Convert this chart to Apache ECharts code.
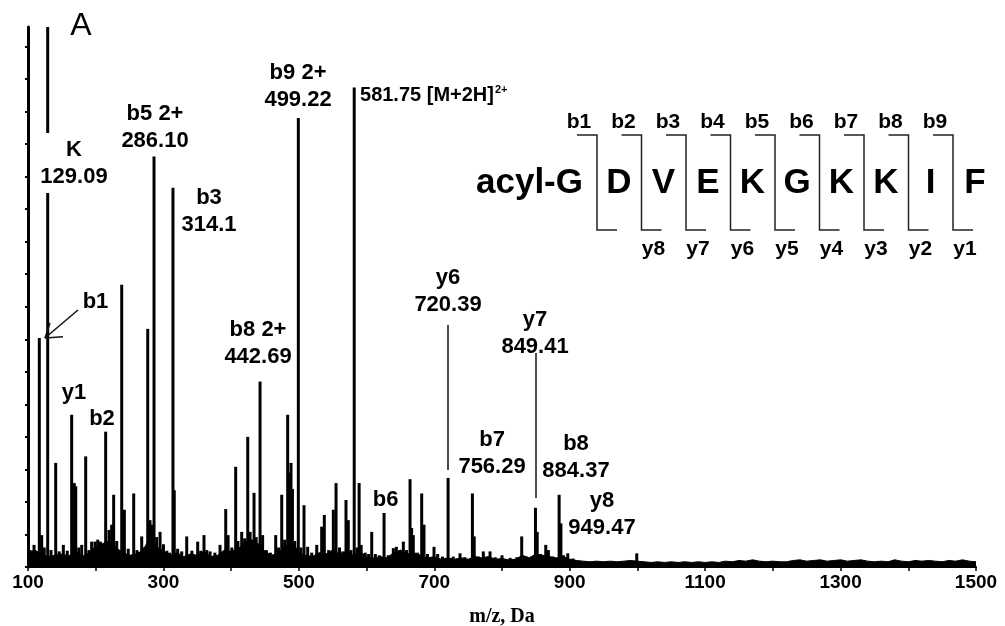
<!DOCTYPE html>
<html><head><meta charset="utf-8">
<script src="https://cdn.jsdelivr.net/npm/echarts@6/dist/echarts.min.js"></script>
<style>html,body{margin:0;padding:0;background:#fff}#c{width:1005px;height:626px}</style>
</head><body><div id="c"></div>
<script>
// ---- data (m/z, relative intensity; y tick every 5 units) ----
const peaks = [
 [103,2.6],[108.9,3.4],[112,2.4],[116.7,35.2],[120.2,4.9],[124,3.0],[129.09,83],[134,2.6],[140.9,16.0],[146,2.4],
 [152.2,3.4],[158,2.5],[164.5,23.4],[168.4,12.9],[170.5,12.4],[175,3.0],[179.3,3.4],[185.2,17.0],[190,2.6],[194,3.9],
 [199,3.9],[203,4.2],[207,3.9],[210,3.5],[214.7,20.8],[219.6,5.7],[223.5,6.5],[226.5,11.1],[231,4.0],[238.4,43.4],
 [242.3,8.8],[248,2.8],[256.1,11.3],[261,2.6],[267.9,4.7],[272,3.0],[276.8,36.6],[280.2,7.2],[283,6.5],[286.1,63.1],
 [290,4.6],[295,5.4],[300,3.5],[305,2.5],[309,2.2],[314.1,58.3],[316,11.8],[321,2.8],[327,2.4],[334.4,4.7],
 [342,2.5],[350.6,3.9],[355,2.5],[359.9,4.9],[364,2.6],[368.8,2.4],[376,2.2],[383.6,3.4],[392,8.9],[395.5,4.9],
 [401,3.0],[406.7,15.4],[410,4.0],[415.6,5.4],[420,4.4],[424.5,20.0],[428,5.4],[433.8,11.4],[437,4.6],[442.69,28.5],
 [446.5,4.9],[452,2.6],[458,2.2],[465.8,4.9],[470,3.0],[474.7,11.1],[479,4.2],[483.5,23.4],[486,14.5],[488.4,16.0],
 [490.5,12.0],[494,4.0],[499.22,69.0],[503,3.0],[507.6,9.5],[513,3.1],[519,2.2],[526.4,3.4],[533.7,6.2],[537.6,8.0],
 [544,2.6],[550.9,8.8],[554.9,12.9],[560,3.0],[565,2.4],[569.6,10.3],[573,7.2],[577,2.6],[581.75,73.7],[586,3.0],
 [589,12.9],[592,3.4],[598,2.2],[603,2.0],[607.6,5.4],[613,2.0],[619,1.8],[625.8,8.3],[632,1.8],[639.5,2.9],
 [644,3.1],[649,2.4],[654.3,3.9],[659,2.6],[664.2,13.5],[666.5,6.0],[669,4.9],[675,2.2],[681.4,11.3],[684.8,6.5],
 [690,2.0],[699.6,3.1],[705,2.0],[712,1.6],[720.39,13.7],[728,1.6],[738,2.1],[745,1.5],[756.29,11.3],[759,4.7],
 [765,1.6],[772.4,2.4],[782.3,2.4],[790,1.5],[800,1.8],[812,1.4],[822,1.5],[829.1,4.7],[836,1.6],[842,1.5],
 [849.41,9.1],[852,5.4],[857,2.0],[864.6,3.4],[868.5,2.6],[875,1.6],[884.37,11.1],[887,6.7],[891,1.8],[897.1,2.1],
 [905,1.3],[999,2.1]
];
// baseline noise level, one value per 10 m/z from 100 to 1500
const noiseStart = 100, noiseStep = 10;
const noiseLevel = [
 2.2,2.6,2.0,1.6,1.8,2.0,1.7,2.4,1.6,2.2,
 3.2,3.6,4.0,3.0,2.2,1.8,2.0,2.6,4.5,3.2,
 2.4,1.8,2.2,1.6,2.0,1.8,2.4,1.6,1.8,2.6,
 2.4,2.8,3.8,4.2,3.6,2.4,1.8,2.2,3.2,4.0,
 2.2,1.8,1.6,2.2,2.0,2.6,2.0,2.4,1.8,2.4,
 1.6,1.4,1.6,1.4,2.2,2.6,2.0,2.2,1.8,1.4,
 1.6,1.2,1.4,1.2,1.4,1.2,1.6,1.4,1.6,1.2,
 1.3,1.1,1.2,1.8,1.4,2.0,1.8,1.6,1.4,1.6,
 1.2,1.0,0.9,0.8,0.9,0.8,0.9,0.8,0.9,1.0,
 0.9,0.8,0.7,0.8,0.7,0.8,0.7,0.8,0.7,0.8,
 0.7,0.8,0.7,0.9,0.8,1.0,0.9,1.1,0.9,0.8,
 0.9,0.8,0.8,1.0,1.1,0.9,1.0,1.1,0.9,1.0,
 1.1,0.9,1.0,1.1,0.9,0.8,0.9,0.8,1.1,0.9,
 0.8,1.0,0.9,1.0,0.9,0.8,1.0,0.9,1.1,0.9,0.8
];
// peak annotations: text, anchor m/z, anchor intensity (block centre)
const labelText = ['K\n129.09','b5 2+\n286.10','b3\n314.1','b9 2+\n499.22','b1','y1','b2','b8 2+\n442.69','y6\n720.39','y7\n849.41','b7\n756.29','b8\n884.37','y8\n949.47','b6'];
const labelMz   = [167.9, 287.6, 367.3, 498.8, 199.7, 167.9, 209.3, 439.7, 720.3, 848.8, 785.3, 909.3, 947.7, 628];
const labelInt  = [62.1, 67.6, 54.7, 73.9, 40.8, 26.8, 22.7, 34.35, 42.35, 35.9, 17.5, 16.9, 8.15, 10.3];
const precursor = {mz: 590.3, int: 72.5, text: '581.75 [M+2H]', charge: '2+'};
// leader lines [mz, from, to]
const leaders = [[720.39, 37.2, 14.9], [849.41, 32.9, 10.6]];
// b1 arrow: shaft and head, in (m/z, intensity)
const arrowLines = [[[173.8,39.5],[125.1,35.2]], [[125.1,35.2],[151.7,35.4]], [[125.1,35.2],[132.5,37.5]]];
// sequence diagram
const prefix = 'acyl-G';
const residues = ['D','V','E','K','G','K','K','I','F'];
const bIons = ['b1','b2','b3','b4','b5','b6','b7','b8','b9'];
const yIons = ['','y8','y7','y6','y5','y4','y3','y2','y1'];
const xTickLabels = [100,300,500,700,900,1100,1300,1500];
const yTicks = [0,5,10,15,20,25,30,35,40,45,50,55,60,65,70,75,80];

// ---- build ----
const FONT = '"Liberation Sans", Arial, sans-serif';
const noiseData = noiseLevel.map((v,i)=>[noiseStart+i*noiseStep, v]);

const labelData = labelText.map((t,i)=>{
  const o = {value:[labelMz[i], labelInt[i]], label:{formatter:t}};
  if (i === 0) { o.label.backgroundColor = '#fff'; o.label.padding = [3,2]; }
  return o;
});
labelData.push({value:[precursor.mz, precursor.int], label:{
  formatter:'{m|'+precursor.text+'}{s|'+precursor.charge+'}', align:'left',
  rich:{m:{fontSize:20,fontWeight:'bold',fontFamily:FONT,color:'#000',lineHeight:22},
        s:{fontSize:11,fontWeight:'bold',fontFamily:FONT,color:'#000',verticalAlign:'top',lineHeight:22,padding:[0,0,0,1]}}
}});

const markLines = leaders.map(l=>[{coord:[l[0],l[1]]},{coord:[l[0],l[2]]}])
  .concat(arrowLines.map(a=>[{coord:a[0]},{coord:a[1]}]));

// sequence graphic
const g = [];
const bx0 = 597, bstep = 44.5, topY = 135, botY = 230, arm = 20, letY = 183;
g.push({type:'text', style:{text:'A', x:81, y:26, font:'normal 32px '+FONT, fill:'#000', align:'center', verticalAlign:'middle'}});
g.push({type:'text', style:{text:prefix, x:bx0-14, y:letY, font:'bold 35px '+FONT, fill:'#000', align:'right', verticalAlign:'middle'}});
residues.forEach((r,i)=>{
  const vx = bx0 + i*bstep;
  g.push({type:'polyline', shape:{points:[[vx-arm,topY],[vx,topY],[vx,botY],[vx+arm,botY]]}, style:{stroke:'#222', lineWidth:1.5, fill:null}});
  g.push({type:'text', style:{text:bIons[i], x:vx-18, y:122, font:'bold 21px '+FONT, fill:'#000', align:'center', verticalAlign:'middle'}});
  if (yIons[i]) g.push({type:'text', style:{text:yIons[i], x:vx+12, y:249, font:'bold 21px '+FONT, fill:'#000', align:'center', verticalAlign:'middle'}});
  g.push({type:'text', style:{text:r, x:vx+22, y:letY, font:'bold 35px '+FONT, fill:'#000', align:'center', verticalAlign:'middle'}});
});

const chart = echarts.init(document.getElementById('c'));
chart.setOption({
  animation:false,
  backgroundColor:'#fff',
  textStyle:{fontFamily:FONT},
  grid:{left:28, right:29, top:27, bottom:59, containLabel:false, outerBoundsMode:'none'},
  xAxis:{type:'value', min:100, max:1500, interval:100,
    name:'m/z, Da', nameLocation:'middle', nameGap:40,
    nameTextStyle:{fontFamily:'"Liberation Serif", "Times New Roman", serif', fontWeight:'bold', fontSize:20, color:'#000'},
    axisLine:{show:true, lineStyle:{color:'#000', width:2}},
    axisTick:{show:true, length:4, lineStyle:{color:'#000', width:1.5}},
    axisLabel:{customValues:xTickLabels, formatter:v=>String(v), color:'#000', fontWeight:'bold', fontSize:19, margin:6, fontFamily:FONT},
    splitLine:{show:false}},
  yAxis:{type:'value', min:0, max:83, interval:5,
    axisLine:{show:true, lineStyle:{color:'#000', width:3}},
    axisTick:{show:true, customValues:yTicks, length:3, lineStyle:{color:'#000', width:2}},
    axisLabel:{show:false}, splitLine:{show:false}},
  graphic:g,
  series:[
    {type:'line', data:noiseData, symbol:'none', silent:true, z:2,
     lineStyle:{color:'#000', width:1}, areaStyle:{color:'#000', opacity:1}},
    {type:'bar', data:peaks, barWidth:3, itemStyle:{color:'#000'}, silent:true, z:3,
     markLine:{silent:true, symbol:['none','none'], label:{show:false}, animation:false,
       lineStyle:{color:'#111', width:1.5, type:'solid'}, data:markLines}},
    {type:'scatter', data:labelData, symbol:'circle', symbolSize:0, itemStyle:{color:'#000', opacity:1}, silent:true, z:5,
     label:{show:true, position:'inside', align:'center', verticalAlign:'middle', color:'#000', opacity:1,
       textBorderWidth:0, fontWeight:'bold', fontSize:22, lineHeight:27, fontFamily:FONT}}
  ]
});
</script></body></html>
